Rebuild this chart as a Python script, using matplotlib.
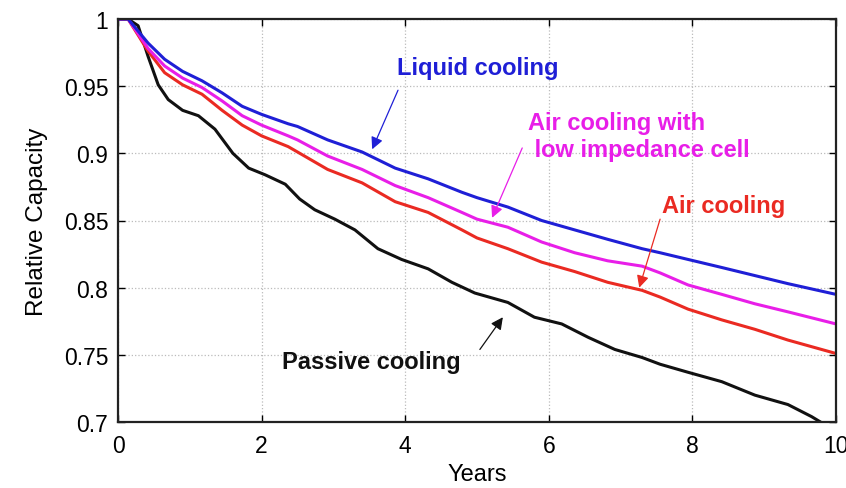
import matplotlib
matplotlib.use("Agg")
import matplotlib.pyplot as plt
from matplotlib.ticker import FuncFormatter

# values
years_liquid = [0, 0.14, 0.42, 0.65, 0.9, 1.17, 1.45, 1.73, 2.0, 2.37, 2.5, 2.92, 3.4, 3.86,
                4.32, 4.79, 5.0, 5.43, 5.9, 6.36, 6.82, 7.3, 7.55, 7.94, 8.41, 8.87, 9.33, 10]
liquid = [1.0, 1.0, 0.982, 0.97, 0.961, 0.954, 0.945, 0.935, 0.929, 0.922, 0.92, 0.91, 0.901, 0.889,
          0.881, 0.871, 0.867, 0.86, 0.85, 0.843, 0.836, 0.829, 0.826, 0.821, 0.815, 0.809, 0.803, 0.795]

years_air = years_liquid
air_low_imp = [1.0, 1.0, 0.978, 0.965, 0.956, 0.949, 0.939, 0.928, 0.921, 0.913, 0.91, 0.898, 0.888, 0.876,
               0.867, 0.856, 0.851, 0.845, 0.834, 0.826, 0.82, 0.816, 0.811, 0.802, 0.795, 0.788, 0.782, 0.773]
air = [1.0, 1.0, 0.976, 0.96, 0.951, 0.944, 0.932, 0.921, 0.913, 0.905, 0.901, 0.888, 0.878, 0.864,
       0.856, 0.843, 0.837, 0.829, 0.819, 0.812, 0.804, 0.798, 0.793, 0.784, 0.776, 0.769, 0.761, 0.751]

years_passive = [0, 0.14, 0.28, 0.42, 0.56, 0.7, 0.9, 1.12, 1.35, 1.6, 1.82, 2.05, 2.33, 2.53, 2.74,
                 3.02, 3.3, 3.62, 3.95, 4.32, 4.65, 4.97, 5.43, 5.8, 6.18, 6.55, 6.92, 7.3, 7.55,
                 7.94, 8.41, 8.87, 9.33, 9.66, 10]
passive = [1.0, 1.0, 0.995, 0.972, 0.951, 0.94, 0.932, 0.928, 0.918, 0.9, 0.889, 0.884, 0.877, 0.866, 0.858,
           0.851, 0.843, 0.829, 0.821, 0.814, 0.804, 0.796, 0.789, 0.778, 0.773, 0.763, 0.754, 0.748, 0.743,
           0.737, 0.73, 0.72, 0.713, 0.704, 0.693]

x_ticks = [0, 2, 4, 6, 8, 10]
y_ticks = [0.7, 0.75, 0.8, 0.85, 0.9, 0.95, 1.0]

BLUE = "#1f1fd6"
MAGENTA = "#e81ee8"
RED = "#ea2a22"
BLACK = "#111111"

plt.rcParams['font.family'] = ['Liberation Sans', 'DejaVu Sans']


def draw_curves(ax):
    # the four cooling strategies
    ax.plot(years_passive, passive, color=BLACK, lw=2.2, solid_joinstyle='round')
    ax.plot(years_air, air, color=RED, lw=2.2, solid_joinstyle='round')
    ax.plot(years_air, air_low_imp, color=MAGENTA, lw=2.2, solid_joinstyle='round')
    ax.plot(years_liquid, liquid, color=BLUE, lw=2.2, solid_joinstyle='round')


def arrow_to(ax, head, tail, color):
    ax.annotate('', xy=head, xytext=tail,
                arrowprops=dict(arrowstyle='-|>', lw=0.9, mutation_scale=18,
                                shrinkA=0, shrinkB=0, color=color))


def draw_labels(ax):
    # text labels with arrows pointing at the curves
    label = dict(fontsize=17, fontweight='bold', ha='left', va='center')
    ax.text(3.89, 0.964, 'Liquid cooling', color=BLUE, **label)
    arrow_to(ax, (3.54, 0.903), (3.9, 0.947), BLUE)

    ax.text(5.71, 0.913, 'Air cooling with\n low impedance cell', color=MAGENTA,
            linespacing=1.25, **label)
    arrow_to(ax, (5.21, 0.852), (5.63, 0.904), MAGENTA)

    ax.text(7.58, 0.861, 'Air cooling', color=RED, **label)
    arrow_to(ax, (7.26, 0.80), (7.55, 0.851), RED)

    ax.text(2.28, 0.745, 'Passive cooling', color=BLACK, **label)
    arrow_to(ax, (5.36, 0.778), (5.04, 0.754), BLACK)


def main():
    fig = plt.figure(figsize=(8.46, 4.89), dpi=100)
    ax = fig.add_axes([118 / 846, 1 - 423 / 489, 718 / 846, 403 / 489])

    draw_curves(ax)
    draw_labels(ax)

    ax.set_xlim(0, 10)
    ax.set_ylim(0.7, 1.0)
    ax.set_xticks(x_ticks)
    ax.set_yticks(y_ticks)
    ax.yaxis.set_major_formatter(FuncFormatter(lambda v, p: '%g' % v))
    ax.tick_params(direction='in', length=5, width=1, labelsize=16.5, top=True, right=True)
    ax.tick_params(axis='x', pad=9)
    ax.tick_params(axis='y', pad=7)
    ax.grid(True, linestyle=':', color='#bbbbbb', lw=0.9)
    for side in ax.spines.values():
        side.set_linewidth(1.6)
        side.set_color('#222222')

    ax.set_xlabel('Years', fontsize=17, labelpad=4)
    ax.set_ylabel('Relative Capacity', fontsize=17.5, labelpad=11)

    fig.savefig('out.png', dpi=100)


if __name__ == "__main__":
    main()
